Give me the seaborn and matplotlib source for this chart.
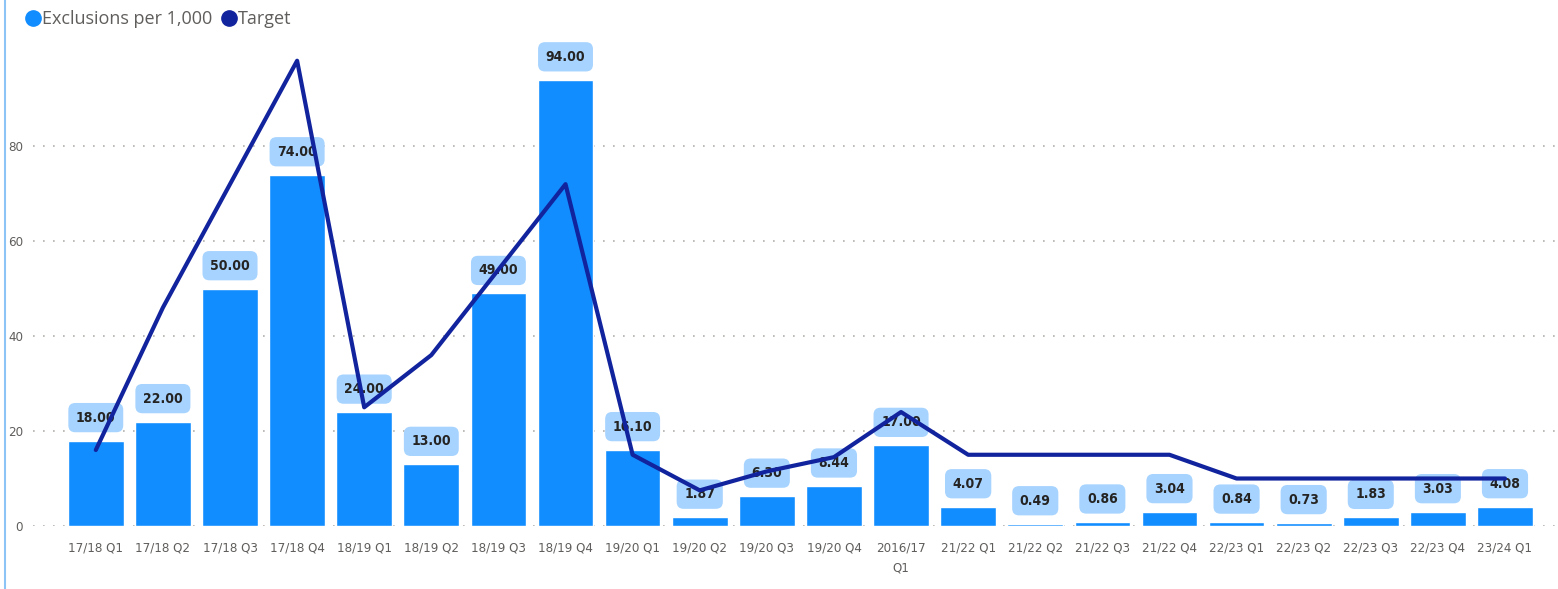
import matplotlib
matplotlib.use("Agg")
import matplotlib.pyplot as plt
from matplotlib.lines import Line2D
import seaborn as sns
import numpy as np
import pandas as pd

# chart data
quarters = ["17/18 Q1", "17/18 Q2", "17/18 Q3", "17/18 Q4", "18/19 Q1", "18/19 Q2",
            "18/19 Q3", "18/19 Q4", "19/20 Q1", "19/20 Q2", "19/20 Q3", "19/20 Q4",
            "2016/17\nQ1", "21/22 Q1", "21/22 Q2", "21/22 Q3", "21/22 Q4", "22/23 Q1",
            "22/23 Q2", "22/23 Q3", "22/23 Q4", "23/24 Q1"]
exclusions = [18.00, 22.00, 50.00, 74.00, 24.00, 13.00, 49.00, 94.00, 16.10, 1.87, 6.30,
              8.44, 17.00, 4.07, 0.49, 0.86, 3.04, 0.84, 0.73, 1.83, 3.03, 4.08]
target = [16, 46, 72, 98, 25, 36, 54, 72, 15, 7.5, 11.5, 14.5, 24, 15, 15, 15, 15,
          10, 10, 10, 10, 10]
y_ticks = [0, 20, 40, 60, 80]

BAR_COLOR = "#118DFF"
LINE_COLOR = "#12239E"
LABEL_BG = "#A6D3FF"
TEXT_GRAY = "#605E5C"

sns.set_theme(style="white")
plt.rcParams["font.family"] = ["DejaVu Sans"]
plt.rcParams["font.stretch"] = "condensed"

df = pd.DataFrame({"quarter": quarters, "pos": np.arange(len(quarters)),
                   "exclusions": exclusions, "target": target})

fig = plt.figure(figsize=(15.58, 5.89), dpi=100)
ax = fig.add_axes([0.021, 0.107, 0.979, 0.806])

sns.barplot(data=df, x="pos", y="exclusions", color=BAR_COLOR, width=0.83,
            saturation=1, ax=ax, zorder=2)
sns.lineplot(data=df, x="pos", y="target", color=LINE_COLOR, linewidth=3,
             ax=ax, zorder=4, sort=False)

# value labels in rounded boxes
for i, v in enumerate(exclusions):
    ax.annotate(f"{v:.2f}", xy=(i, v), xytext=(0, 16.5), textcoords="offset points",
                ha="center", va="center", fontsize=10, color="#252423", zorder=3,
                fontweight="semibold",
                bbox=dict(boxstyle="round,pad=0.55,rounding_size=0.5",
                          fc=LABEL_BG, ec="none"))

ax.set_xlim(-0.94, 21.79)
ax.set_ylim(0, 100)
ax.set_yticks(y_ticks)
ax.set_xticks(range(len(quarters)))
ax.set_xticklabels(quarters, linespacing=1.7)
ax.set_xlabel("")
ax.set_ylabel("")
ax.tick_params(axis="x", length=0, pad=11, labelsize=9.5, labelcolor=TEXT_GRAY)
ax.tick_params(axis="y", length=0, pad=7, labelsize=9.5, labelcolor=TEXT_GRAY)
ax.yaxis.grid(True, linestyle=(0, (1, 5)), color="#B3B0AD", linewidth=1.2, zorder=0)
ax.set_axisbelow(True)
for s in ax.spines.values():
    s.set_visible(False)

# legend
handles = [Line2D([], [], marker="o", linestyle="", markersize=11, color=BAR_COLOR),
           Line2D([], [], marker="o", linestyle="", markersize=11, color=LINE_COLOR)]
fig.legend(handles, ["Exclusions per 1,000", "Target"], loc="upper left",
           bbox_to_anchor=(0.004, 1.01), ncol=2, frameon=False,
           handletextpad=-0.1, columnspacing=0.3, handlelength=1.2,
           labelcolor=TEXT_GRAY,
           prop={"family": ["Open Sans", "DejaVu Sans"], "size": 13, "stretch": "normal"})

fig.add_artist(Line2D([0.003, 0.003], [0, 1], color="#8CC4F5", linewidth=1.5))

fig.savefig("out.png", dpi=100)
